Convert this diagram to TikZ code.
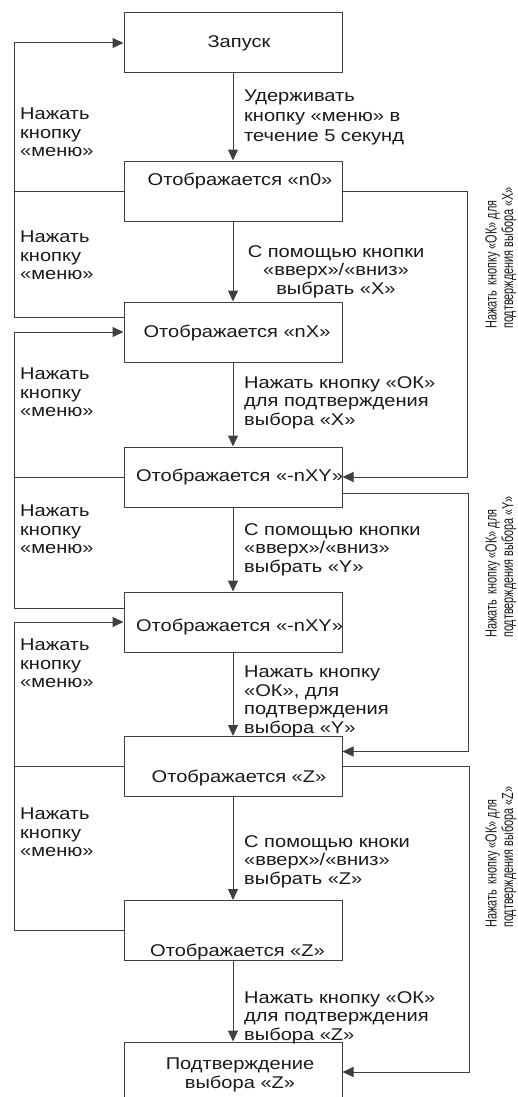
\documentclass[tikz,border=0pt]{standalone}
\usepackage{fontspec}
\setmainfont{Liberation Sans}[FakeStretch=1.18]
\newfontfamily\sidefont{Liberation Sans}[FakeStretch=0.68]
\usetikzlibrary{arrows.meta}

\begin{document}
\begin{tikzpicture}[x=1pt,y=1pt,
  box/.style={draw=black!75, line width=1pt, minimum width=218pt, minimum height=60pt, inner sep=0pt},
  txt/.style={font=\fontsize{17}{18.5}\selectfont, text=black!90, inner sep=0pt},
  lbl/.style={txt, align=left, anchor=north west},
  clbl/.style={txt, align=center, anchor=north},
  line/.style={draw=black!75, line width=1pt},
  arr/.style={line, -{Triangle[length=11pt,width=10pt]}},
  side/.style={font=\sidefont\fontsize{16}{16.5}\selectfont, text=black!90, inner sep=0pt,
    rotate=90, anchor=west, align=left}
]
\clip (0,0) rectangle (517,-1097);

% states
\node[box] (b1) at (233,-43) {};
\node[box] (b2) at (233,-191) {};
\node[box] (b3) at (233,-332) {};
\node[box] (b4) at (233,-477) {};
\node[box] (b5) at (233,-622) {};
\node[box] (b6) at (233,-766.5) {};
\node[box] (b7) at (233,-930.5) {};
\node[box] (b8) at (233,-1072) {};

\node[txt] (t1) at (239,-43) {Запуск};
\node[txt] (t2) at (240,-181) {Отображается «n0»};
\node[txt] (t3) at (237,-333) {Отображается «nX»};
\node[txt] (t4) at (239.5,-477) {Отображается «-nXY»};
\node[txt] (t5) at (239.5,-627) {Отображается «-nXY»};
\node[txt] (t6) at (239,-778) {Отображается «Z»};
\node[txt] (t7) at (237.5,-952) {Отображается «Z»};
\node[txt, align=center] (t8) at (240,-1075) {Подтверждение\\выбора «Z»};

% main sequence
\draw[arr] (b1) -- (b2);
\draw[arr] (b2) -- (b3);
\draw[arr] (b3) -- (b4);
\draw[arr] (b4) -- (b5);
\draw[arr] (b5) -- (b6);
\draw[arr] (b6) -- (b7);
\draw[arr] (b7) -- (b8);

\node[lbl, font=\fontsize{17}{20}\selectfont] (m1) at (244,-90) {Удерживать\\кнопку «меню» в\\течение 5 секунд};
\node[clbl] (m2) at (336,-245) {С помощью кнопки\\«вверх»/«вниз»\\выбрать «X»};
\node[lbl] (m3) at (244,-376) {Нажать кнопку «ОК»\\для подтверждения\\выбора «X»};
\node[lbl] (m4) at (244,-523) {С помощью кнопки\\«вверх»/«вниз»\\выбрать «Y»};
\node[lbl] (m5) at (244,-666) {Нажать кнопку\\«ОК», для\\подтверждения\\выбора «Y»};
\node[lbl] (m6) at (244,-835) {С помощью кноки\\«вверх»/«вниз»\\выбрать «Z»};
\node[lbl] (m7) at (244,-991) {Нажать кнопку «ОК»\\для подтверждения\\выбора «Z»};

% "menu" returns on the left
\coordinate (la) at (14,-43);
\coordinate (lb) at (14,-332);
\coordinate (lc) at (14,-622);
\draw[arr] ([yshift=15pt]b3.west) -| (la) -- (b1.west);
\draw[line] (b2.west) -- (b2.west -| la);
\draw[arr] ([yshift=14pt]b5.west) -| (lb) -- (b3.west);
\draw[line] (b4.west) -- (b4.west -| lb);
\draw[arr] (b7.west) -| (lc) -- (b5.west);
\draw[line] (b6.west) -- (b6.west -| lc);

\node[lbl] (n1) at (20,-108) {Нажать\\кнопку\\«меню»};
\node[lbl] (n2) at (20,-231) {Нажать\\кнопку\\«меню»};
\node[lbl] (n3) at (20,-368) {Нажать\\кнопку\\«меню»};
\node[lbl] (n4) at (20,-505) {Нажать\\кнопку\\«меню»};
\node[lbl] (n5) at (20,-639) {Нажать\\кнопку\\«меню»};
\node[lbl] (n6) at (20,-808) {Нажать\\кнопку\\«меню»};

% "OK" confirmations on the right
\coordinate (ra) at (467,-191);
\coordinate (rb) at (468,-493);
\coordinate (rc) at (469,-766.5);
\draw[arr] (b2.east) -- (ra) |- (b4.east);
\draw[arr] ([yshift=-16pt]b4.east) -- (rb) |- ([yshift=15pt]b6.east);
\draw[arr] (b6.east) -- (rc) |- (b8.east);

\node[side] (s1) at (501,-329) {Нажать\ \ кнопку «ОК» для\\подтверждения выбора «X»};
\node[side] (s2) at (501,-638) {Нажать\ \ кнопку «ОК» для\\подтверждения выбора «Y»};
\node[side] (s3) at (501,-928) {Нажать\ \ кнопку «ОК» для\\подтверждения выбора «Z»};
\end{tikzpicture}
\end{document}
